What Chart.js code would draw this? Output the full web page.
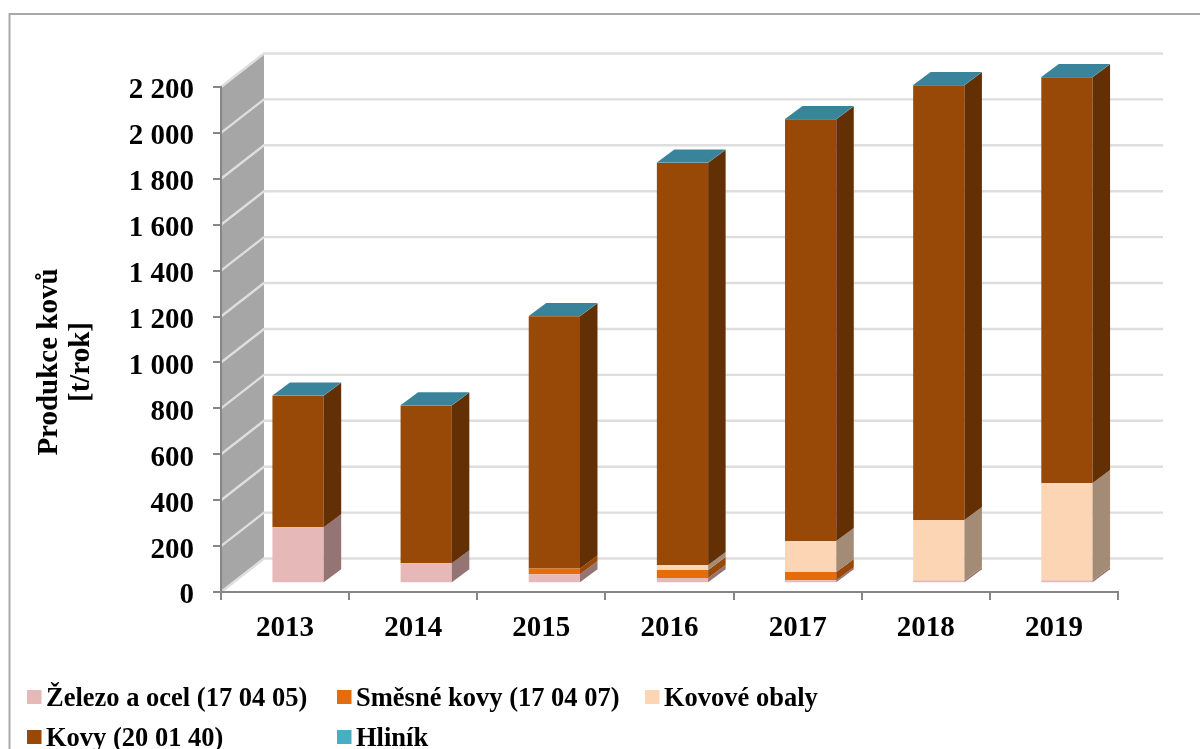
<!DOCTYPE html>
<html><head><meta charset="utf-8">
<script src="https://cdn.jsdelivr.net/npm/chart.js@4"></script>
<style>html,body{margin:0;padding:0;background:#fff}#w{position:relative;width:1200px;height:749px;overflow:hidden}canvas{display:block}</style>
</head><body><div id="w"><canvas id="c" width="1200" height="749"></canvas></div>
<script>
const years = ['2013','2014','2015','2016','2017','2018','2019'];
const zelezo = [244, 87, 39, 23, 13, 13, 13];
const smesne = [0, 0, 26, 35, 36, 0, 0];
const obaly = [0, 0, 0, 22, 135, 263, 424];
const kovy = [573, 688, 1098, 1752, 1838, 1894, 1768];
const hlinik = [1, 1, 1, 1, 1, 1, 1];
const tickStep = 200, axisMax = 2200;
const FONT = '"Liberation Serif"';
const colors = ['#e6b9b8','#e46c0a','#fcd5b5','#984807','#4bacc6'];
const sideColors = ['#947574','#984807','#a38b76','#632f05','#2f7488'];
const topColor = '#39849b';
const labels = ['Železo a ocel (17 04 05)','Směsné kovy (17 04 07)','Kovové obaly','Kovy (20 01 40)','Hliník'];
const yTitle = ['Produkce kovů','[t/rok]'];
const series = [zelezo,smesne,obaly,kovy,hlinik];
const WALL = {dx:43, dy:33.5}, BAR = {dx:13, dy:8.7, sx:17.5, sy:13};
const legendPos = [[27,697],[337,697],[645,697],[27,737],[337,737]];

const scene = {
  id:'scene',
  beforeDraw(chart){
    const {ctx,scales:{x,y}} = chart;
    ctx.save();
    ctx.fillStyle='#fff';ctx.fillRect(0,0,1200,749);
    ctx.strokeStyle='#a9a9a9';ctx.lineWidth=2;ctx.strokeRect(9.5,14,1300,800);
    const L=x.left,R=x.right,B=y.getPixelForValue(0),T=y.getPixelForValue(axisMax);
    ctx.fillStyle='#a6a6a6';
    ctx.beginPath();ctx.moveTo(L,B);ctx.lineTo(L+WALL.dx,B-WALL.dy);ctx.lineTo(L+WALL.dx,T-WALL.dy);ctx.lineTo(L,T);ctx.closePath();ctx.fill();
    ctx.strokeStyle='#dedede';ctx.lineWidth=2.4;
    y.ticks.forEach(t=>{
      const p=y.getPixelForValue(t.value);
      ctx.beginPath();ctx.moveTo(L,p);ctx.lineTo(L+WALL.dx,p-WALL.dy);ctx.lineTo(R+WALL.dx+2,p-WALL.dy);ctx.stroke();
    });
    ctx.restore();
  },
  beforeDatasetsDraw(chart){
    chart.ctx.save();
    chart.ctx.translate(BAR.dx,-BAR.dy);
  },
  afterDatasetsDraw(chart){
    const ctx=chart.ctx;
    years.forEach((_,i)=>{
      let topY=Infinity,xr=0,xl=0;
      series.forEach((s,d)=>{
        const el=chart.getDatasetMeta(d).data[i];
        if(!s[i])return;
        const h=el.getProps(['x','y','base','width'],true);
        const r=h.x+h.width/2,l=h.x-h.width/2;
        xr=r;xl=l;topY=Math.min(topY,h.y);
        ctx.fillStyle=sideColors[d];
        ctx.beginPath();ctx.moveTo(r,h.y);ctx.lineTo(r+BAR.sx,h.y-BAR.sy);ctx.lineTo(r+BAR.sx,h.base-BAR.sy);ctx.lineTo(r,h.base);ctx.closePath();ctx.fill();
      });
      ctx.fillStyle=topColor;
      ctx.beginPath();ctx.moveTo(xl,topY);ctx.lineTo(xl+BAR.sx,topY-BAR.sy);ctx.lineTo(xr+BAR.sx,topY-BAR.sy);ctx.lineTo(xr,topY);ctx.closePath();ctx.fill();
    });
    ctx.restore();
  },
  afterDraw(chart){
    const ctx=chart.ctx;
    ctx.save();
    ctx.font='bold 26.5px '+FONT;ctx.textBaseline='alphabetic';ctx.textAlign='left';
    labels.forEach((t,i)=>{
      const [lx,ly]=legendPos[i];
      ctx.fillStyle=colors[i];ctx.fillRect(lx,ly-7,14.5,14);
      ctx.fillStyle='#000';ctx.fillText(t,lx+19,ly+9);
    });
    ctx.font='bold 29px '+FONT;ctx.textAlign='center';ctx.fillStyle='#000';
    yTitle.forEach((t,i)=>{
      ctx.save();ctx.translate(57+32*i,362);ctx.rotate(-Math.PI/2);ctx.fillText(t,0,0);ctx.restore();
    });
    ctx.restore();
  }
};

new Chart(document.getElementById('c'),{
  type:'bar',
  data:{labels:years,datasets:series.map((s,i)=>({label:labels[i],data:s,backgroundColor:colors[i],borderWidth:0,barPercentage:0.4,categoryPercentage:1,clip:false}))},
  plugins:[scene],
  options:{
    responsive:false,animation:false,
    layout:{padding:{top:87,right:82,bottom:0,left:0}},
    plugins:{legend:{display:false},tooltip:{enabled:false},title:{display:false}},
    scales:{
      x:{stacked:true,
        afterFit(s){s.height=157;},
        grid:{drawOnChartArea:false,drawTicks:true,tickLength:8,color:'#868686',lineWidth:2},
        border:{color:'#868686',width:2},
        ticks:{color:'#000',font:{family:FONT,size:29,weight:'bold'},padding:11,maxRotation:0}},
      y:{stacked:true,min:0,max:axisMax,
        afterFit(s){s.width=221;},
        grid:{drawOnChartArea:false,drawTicks:true,tickLength:8,color:'#868686',lineWidth:2},
        border:{color:'#868686',width:2},
        ticks:{stepSize:tickStep,color:'#000',font:{family:FONT,size:29,weight:'bold'},padding:19,labelOffset:4,
          callback:v=>String(v).replace(/\B(?=(\d{3})+$)/g,' ')}}
    }
  }
});
</script></body></html>
